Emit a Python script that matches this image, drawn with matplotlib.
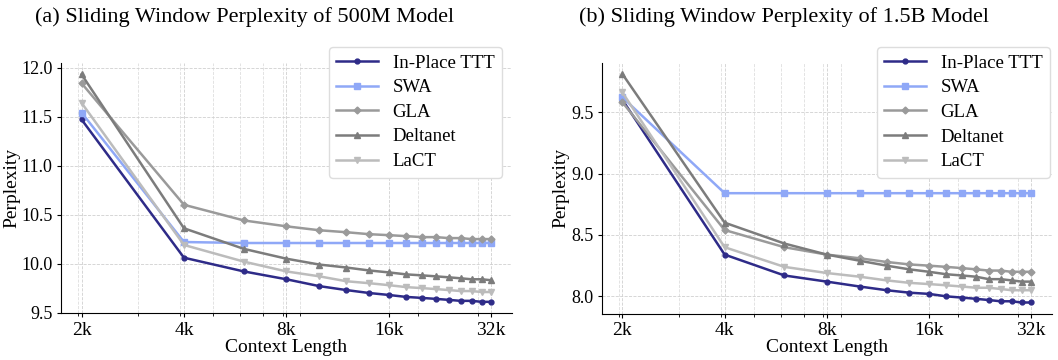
import numpy as np
import matplotlib
matplotlib.use('Agg')
import matplotlib.pyplot as plt

plt.rcParams['font.family'] = ['Liberation Serif', 'DejaVu Serif']

# context lengths in k tokens
ctx_k = [2, 4, 6, 8, 10, 12, 14, 16, 18, 20, 22, 24, 26, 28, 30, 32]
tick_k = [2, 4, 8, 16, 32]
tick_labels = ['2k', '4k', '8k', '16k', '32k']
methods = ['In-Place TTT', 'SWA', 'GLA', 'Deltanet', 'LaCT']

# 500M model
ttt_a = [11.47, 10.06, 9.92, 9.84, 9.77, 9.73, 9.70, 9.68, 9.66, 9.65, 9.64, 9.63, 9.62, 9.62, 9.61, 9.61]
swa_a = [11.54, 10.22, 10.21, 10.21, 10.21, 10.21, 10.21, 10.21, 10.21, 10.21, 10.21, 10.21, 10.21, 10.21, 10.21, 10.21]
gla_a = [11.84, 10.60, 10.44, 10.38, 10.34, 10.32, 10.30, 10.29, 10.28, 10.27, 10.27, 10.26, 10.26, 10.25, 10.25, 10.25]
delta_a = [11.93, 10.36, 10.15, 10.05, 9.99, 9.96, 9.93, 9.91, 9.89, 9.88, 9.87, 9.86, 9.85, 9.84, 9.84, 9.83]
lact_a = [11.64, 10.19, 10.02, 9.92, 9.87, 9.82, 9.80, 9.78, 9.76, 9.75, 9.74, 9.73, 9.72, 9.72, 9.71, 9.71]

# 1.5B model
ttt_b = [9.60, 8.34, 8.17, 8.12, 8.08, 8.05, 8.03, 8.02, 8.00, 7.99, 7.98, 7.97, 7.96, 7.96, 7.95, 7.95]
swa_b = [9.62, 8.84, 8.84, 8.84, 8.84, 8.84, 8.84, 8.84, 8.84, 8.84, 8.84, 8.84, 8.84, 8.84, 8.84, 8.84]
gla_b = [9.58, 8.54, 8.40, 8.34, 8.31, 8.28, 8.26, 8.25, 8.24, 8.23, 8.22, 8.21, 8.21, 8.20, 8.20, 8.20]
delta_b = [9.81, 8.60, 8.43, 8.34, 8.29, 8.25, 8.22, 8.20, 8.18, 8.17, 8.16, 8.14, 8.14, 8.13, 8.12, 8.12]
lact_b = [9.66, 8.40, 8.24, 8.19, 8.16, 8.13, 8.11, 8.10, 8.09, 8.08, 8.07, 8.07, 8.06, 8.05, 8.05, 8.05]

colors = ['#2e2b88', '#8fa8f7', '#9a9a9a', '#7c7c7c', '#bcbcbc']
markers = ['o', 's', 'D', '^', 'v']
msizes = [3.5, 4, 3.5, 4, 4]

x = np.array(ctx_k) * 1024
fig = plt.figure(figsize=(10.58, 3.6), dpi=100)
ax1 = fig.add_axes([0.0577, 0.130, 0.426, 0.695])
ax2 = fig.add_axes([0.569, 0.128, 0.425, 0.698])

panels = [
    (ax1, [ttt_a, swa_a, gla_a, delta_a, lact_a], (0.978, 1.064), -0.09),
    (ax2, [ttt_b, swa_b, gla_b, delta_b, lact_b], (0.996, 1.062), -0.072),
]

for ax, series, anchor, ylab_x in panels:
    for name, vals, c, m, ms in zip(methods, series, colors, markers, msizes):
        ax.plot(x, vals, color=c, marker=m, markersize=ms, linewidth=1.8, label=name)
    ax.set_xscale('log')
    ax.set_xticks(np.array(tick_k) * 1024)
    ax.set_xticklabels(tick_labels)
    ax.grid(True, which='major', linestyle='--', linewidth=0.6, color='#d0d0d0')
    ax.grid(True, which='minor', axis='x', linestyle='--', linewidth=0.6, color='#dedede')
    ax.tick_params(axis='x', which='major', labelsize=14, length=3, pad=3)
    ax.tick_params(axis='y', which='major', labelsize=13, length=3, pad=3)
    ax.tick_params(axis='x', which='minor', length=2)
    ax.set_xlabel('Context Length', fontsize=14, labelpad=0)
    ax.set_ylabel('Perplexity', fontsize=14)
    ax.yaxis.set_label_coords(ylab_x, 0.5)
    ax.spines['top'].set_visible(False)
    ax.spines['right'].set_visible(False)
    ax.legend(loc='upper right', bbox_to_anchor=anchor, borderaxespad=0, fontsize=13.5,
              handlelength=2.2, labelspacing=0.4, framealpha=1, edgecolor='#dddddd')

ax1.set_yticks([9.5, 10.0, 10.5, 11.0, 11.5, 12.0])
ax2.set_yticks([8.0, 8.5, 9.0, 9.5])

fig.text(245 / 1058, 0.953, '(a) Sliding Window Perplexity of 500M Model', fontsize=16, ha='center', va='center')
fig.text(784 / 1058, 0.953, '(b) Sliding Window Perplexity of 1.5B Model', fontsize=16, ha='center', va='center')

fig.savefig('out.png', dpi=100)
